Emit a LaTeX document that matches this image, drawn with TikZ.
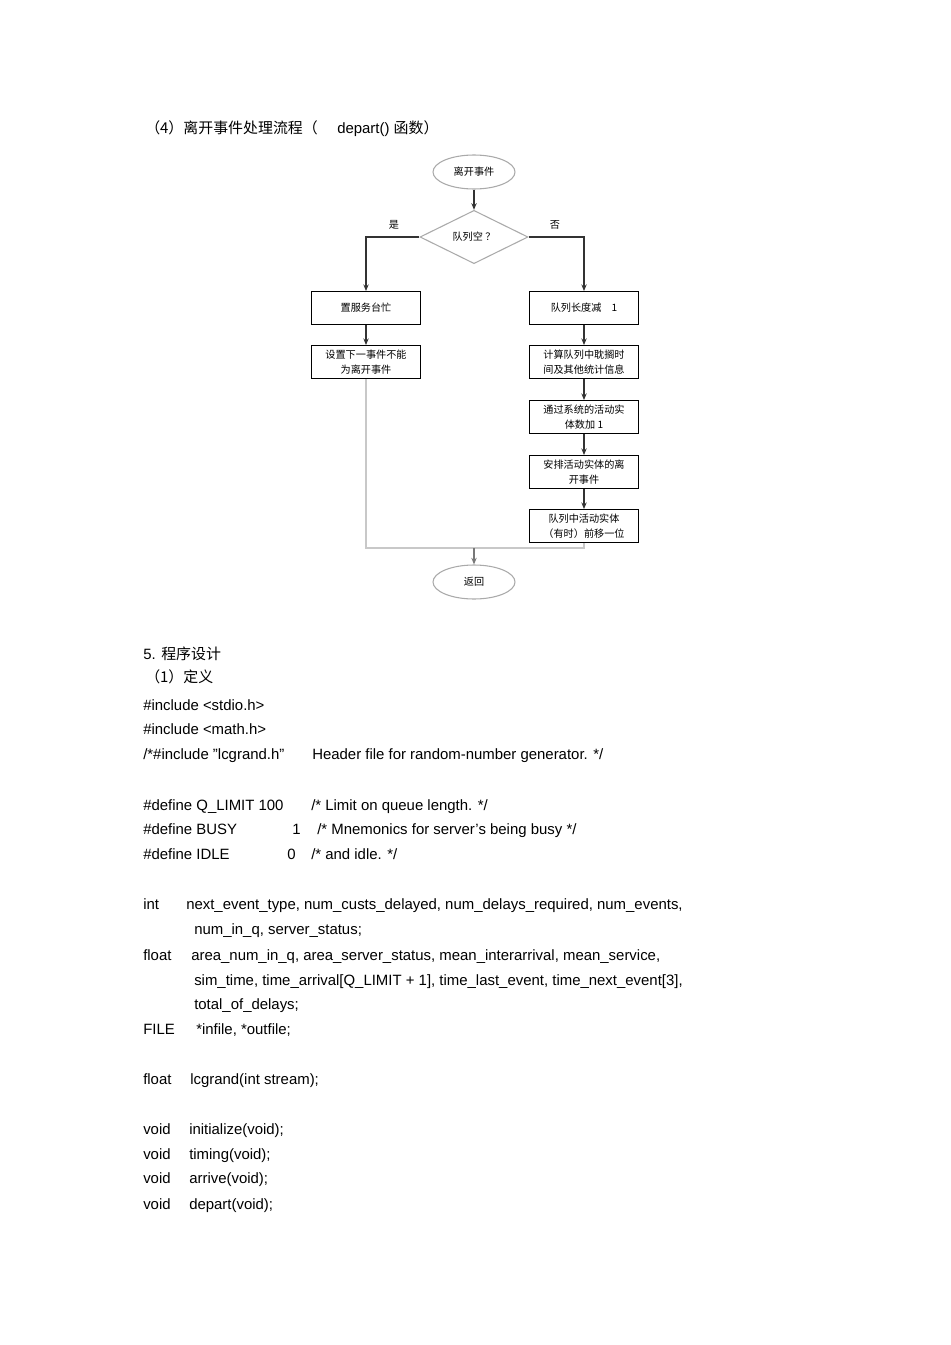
\documentclass[tikz,border=0pt]{standalone}
\usepackage{fontspec}
\setmainfont{Liberation Sans}
\newfontfamily\cjk{Noto Sans CJK SC}
\usetikzlibrary{shapes.geometric,arrows.meta}
\definecolor{edgegray}{RGB}{170,170,170}
\definecolor{backgray}{RGB}{200,200,200}
\tikzset{
  txt/.style={anchor=base west, inner sep=0pt, font=\fontsize{11.2}{13}\selectfont},
  flowbox/.style={draw, line width=0.9pt, minimum width=81.75pt, minimum height=24.5pt,
    inner sep=1pt, align=center, font=\cjk\fontsize{7.6}{11.2}\selectfont},
  terminal/.style={draw=edgegray, line width=0.8pt, ellipse, minimum width=61.5pt,
    minimum height=25.5pt, inner sep=0pt, font=\cjk\fontsize{7.6}{10}\selectfont},
  decision/.style={draw=edgegray, line width=0.8pt, diamond, minimum width=81pt,
    minimum height=40pt, inner sep=0pt, font=\cjk\fontsize{7.6}{10}\selectfont},
  flow/.style={-{Stealth[length=5pt,width=4pt]}, line width=0.9pt, draw=black!80},
  back/.style={line width=0.9pt, draw=backgray}
}
\begin{document}
\begin{tikzpicture}[x=0.75pt,y=-0.75pt]
\useasboundingbox[fill=white] (0,0) rectangle (950,1345);
% heading
\node[txt] (head) at (145,133) {\cjk （4）离开事件处理流程（};
\node[txt] (headfn) at (337,133) {depart() {\cjk 函数）}};
% flowchart
\node[terminal] (start) at (474,172) {离开事件};
\node[decision] (empty) at (474,237) {队列空 ？};
\node[font=\cjk\fontsize{7.6}{10}\selectfont] (yes) at (394,225) {是};
\node[font=\cjk\fontsize{7.6}{10}\selectfont] (no) at (555,225) {否};
\node[flowbox] (busy) at (366,308) {置服务台忙};
\node[flowbox] (nodep) at (366,362) {设置下一事件不能\\为离开事件};
\node[flowbox] (qdec) at (584,308) {队列长度减\quad 1};
\node[flowbox] (delay) at (584,362) {计算队列中耽搁时\\间及其他统计信息};
\node[flowbox] (count) at (584,417) {通过系统的活动实\\体数加 1};
\node[flowbox] (sched) at (584,472) {安排活动实体的离\\开事件};
\node[flowbox] (shift) at (584,526) {队列中活动实体\\（有时）前移一位};
\node[terminal] (ret) at (474,582) {返回};
\coordinate (join) at (474,548);
\draw[flow] (start) -- (empty);
\draw[flow] (empty.west) -| (busy.north);
\draw[flow] (empty.east) -| (qdec.north);
\draw[flow] (busy) -- (nodep);
\draw[flow] (qdec) -- (delay);
\draw[flow] (delay) -- (count);
\draw[flow] (count) -- (sched);
\draw[flow] (sched) -- (shift);
\draw[back] (nodep.south) |- (join);
\draw[back] (shift.south) |- (join);
\draw[flow, draw=backgray!60!black] (join) -- (ret);
% program text
\node[txt] (sec) at (143,659) {5. {\cjk 程序设计}};
\node[txt] (sub) at (145,682) {\cjk （1）定义};
\node[txt] (inc1) at (143,710) {\#include <stdio.h>};
\node[txt] (inc2) at (143,734) {\#include <math.h>};
\node[txt] (inc3) at (143,759) {/*\#include \char"22 lcgrand.h\char"22};
\node[txt] (inc3c) at (312,759) {Header file for random-number generator. */};
\node[txt] (defq) at (143,810) {\#define Q\_LIMIT 100};
\node[txt] (defqc) at (311,810) {/* Limit on queue length. */};
\node[txt] (defb) at (143,834) {\#define BUSY};
\node[txt] (defbv) at (292,834) {1};
\node[txt] (defbc) at (317,834) {/* Mnemonics for server\char"27 s being busy */};
\node[txt] (defi) at (143,859) {\#define IDLE};
\node[txt] (defiv) at (287,859) {0};
\node[txt] (defic) at (311,859) {/* and idle. */};
\node[txt] (tint) at (143,909) {int};
\node[txt] (vint1) at (186,909) {next\_event\_type, num\_custs\_delayed, num\_delays\_required, num\_events,};
\node[txt] (vint2) at (194,934) {num\_in\_q, server\_status;};
\node[txt] (tflt) at (143,960) {float};
\node[txt] (vflt1) at (191,960) {area\_num\_in\_q, area\_server\_status, mean\_interarrival, mean\_service,};
\node[txt] (vflt2) at (194,985) {sim\_time, time\_arrival[Q\_LIMIT + 1], time\_last\_event, time\_next\_event[3],};
\node[txt] (vflt3) at (194,1009) {total\_of\_delays;};
\node[txt] (tfile) at (143,1034) {FILE};
\node[txt] (vfile) at (196,1034) {*infile, *outfile;};
\node[txt] (tlcg) at (143,1084) {float};
\node[txt] (flcg) at (190,1084) {lcgrand(int stream);};
\foreach \y/\f in {1134/initialize,1159/timing,1183/arrive,1209/depart}
{
    \node[txt] (void\f) at (143,\y) {void};
    \node[txt] (fn\f) at (189,\y) {\f(void);};
}
\end{tikzpicture}
\end{document}
